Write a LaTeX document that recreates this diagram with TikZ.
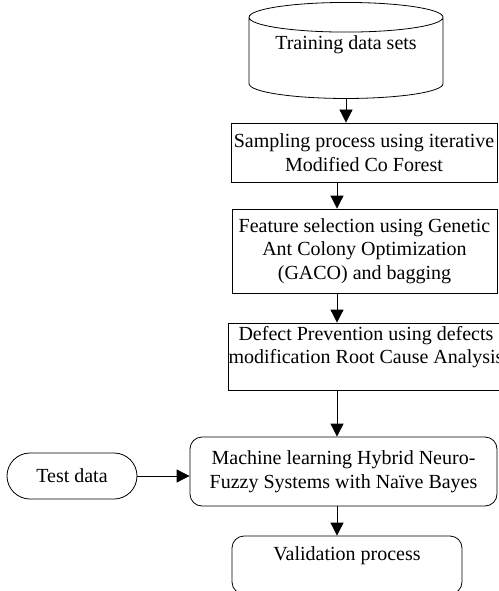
\documentclass[tikz,border=0pt]{standalone}
\usepackage{fontspec}
\setmainfont{Liberation Serif}
\usetikzlibrary{arrows.meta}
\usetikzlibrary{shapes.geometric,shapes.misc}

\begin{document}
\begin{tikzpicture}[x=1pt,y=-1pt,font=\fontsize{20}{23.5}\selectfont]
\useasboundingbox (0,0) rectangle (498,591);
\begin{scope}[every node/.style={cylinder,shape border rotate=90,aspect=0.2,thick,draw,align=center}]
    \node (data) at (346,60) [minimum width=194pt,minimum height=86pt] {Training data sets\\[11pt] \mbox{}};
\end{scope}
\begin{scope}[every node/.style={rectangle,thick,draw,align=center,inner sep=0pt}]
    \node (sample) at (364,152.5) [minimum width=266pt,minimum height=59pt] {Sampling process using iterative\\Modified Co Forest};
    \node (feature) at (364.5,251) [minimum width=265pt,minimum height=84pt] {Feature selection using Genetic\\Ant Colony Optimization\\(GACO) and bagging};
    \node (prevent) at (366,356.5) [minimum width=272pt,minimum height=67pt] {Defect Prevention using defects\\modification Root Cause Analysis\\ \mbox{}};
\end{scope}
\begin{scope}[every node/.style={rectangle,rounded corners=12pt,thick,draw,align=center,inner sep=0pt}]
    \node (machine) at (343.5,471.5) [minimum width=307pt,minimum height=69pt] {Machine learning Hybrid Neuro-\\Fuzzy Systems with Naïve Bayes};
    \node (valid) at (347,565) [minimum width=230pt,minimum height=58pt] {Validation process\\ \mbox{}};
\end{scope}
\begin{scope}[every node/.style={rounded rectangle,thick,draw,inner sep=0pt}]
    \node (test) at (72,476) [minimum width=130pt,minimum height=46pt] {Test data};
\end{scope}
\coordinate (spine) at (337,0);
\begin{scope}[>={Triangle[width=13pt,length=13pt]},
              every edge/.style={draw,thick}]
    \path [->] (data.south) edge (data.south |- sample.north);
    \path [->] (sample.south -| spine) edge (feature.north -| spine);
    \path [->] (feature.south -| spine) edge (prevent.north -| spine);
    \path [->] (prevent.south -| spine) edge (machine.north -| spine);
    \path [->] (test.east) edge (test.east -| machine.west);
    \path [->] (machine.south -| spine) edge (valid.north -| spine);
\end{scope}
\end{tikzpicture}
\end{document}
